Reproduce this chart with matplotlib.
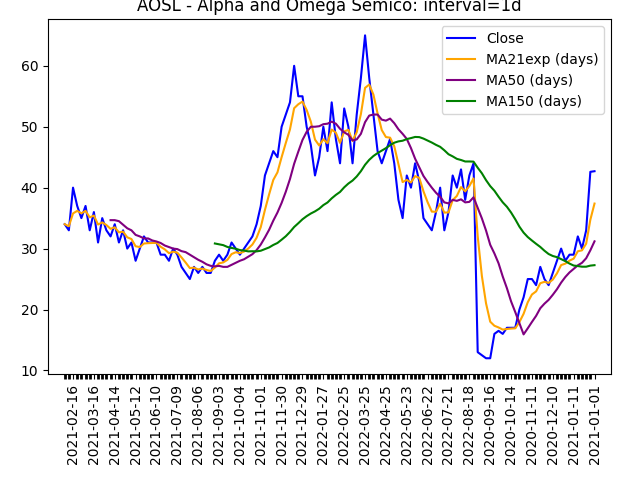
import numpy as np
import pandas as pd
import matplotlib
matplotlib.use("Agg")
import matplotlib.pyplot as plt

# close prices, sampled about every 4 trading days
close = [34, 33,
         40, 37, 35, 37, 33,
         36, 31, 35, 33, 32,
         34, 31, 33, 30, 31,
         28, 30, 32, 31, 31,
         31, 29, 29, 28, 30,
         29, 27, 26, 25, 27,
         26, 27, 26, 26, 28,
         29, 28, 29, 31, 30,
         29, 30, 31, 32, 34,
         37, 42, 44, 46, 45,
         50, 52, 54, 60, 55,
         55, 50, 47, 42, 45,
         50, 46, 54, 48, 44,
         53, 50, 44, 52, 58,
         65, 58, 52, 46, 44,
         46, 48, 44, 38, 35,
         42, 40, 44, 41, 35,
         34, 33, 36, 40, 33,
         36, 42, 40, 43, 38,
         42, 44, 13, 12.5, 12,
         12, 16, 16.5, 16, 17,
         17, 17, 20, 22, 25,
         25, 24, 27, 25, 24,
         26, 28, 30, 28, 29,
         29, 32, 30, 33, 42.6, 42.7]

tick_labels = ["2021-02-16", "2021-03-16", "2021-04-14", "2021-05-12", "2021-06-10",
               "2021-07-09", "2021-08-06", "2021-09-03", "2021-10-04", "2021-11-01",
               "2021-11-30", "2021-12-29", "2022-01-27", "2022-02-25", "2022-03-25",
               "2022-04-25", "2022-05-23", "2022-06-22", "2022-07-21", "2022-08-18",
               "2020-09-16", "2020-10-14", "2020-11-11", "2020-12-10", "2021-01-11",
               "2021-01-01"]

s = pd.Series(close, dtype=float)
ma21 = s.ewm(span=5, adjust=False).mean()
ma50 = s.rolling(12).mean()
ma150 = s.rolling(37).mean()
x = np.arange(len(s))

fig, ax = plt.subplots(figsize=(6.4, 4.8), dpi=100)
ax.plot(x, s, color="blue", label="Close")
ax.plot(x, ma21, color="orange", label="MA21exp (days)")
ax.plot(x, ma50, color="purple", label="MA50 (days)")
ax.plot(x, ma150, color="green", label="MA150 (days)")
ax.set_title("AOSL - Alpha and Omega Semico: interval=1d")
ax.set_xticks(x[2::5][:len(tick_labels)])
ax.set_xticklabels(tick_labels, rotation=90)
ax.set_xticks(x, minor=True)
ax.tick_params(axis="x", which="minor", length=3.5, width=2)
ax.set_xlim(-4, len(s) + 3)
ax.legend(loc="upper right")
plt.subplots_adjust(left=0.075, right=0.955, top=0.96, bottom=0.22)
plt.savefig("out.png", dpi=100)
